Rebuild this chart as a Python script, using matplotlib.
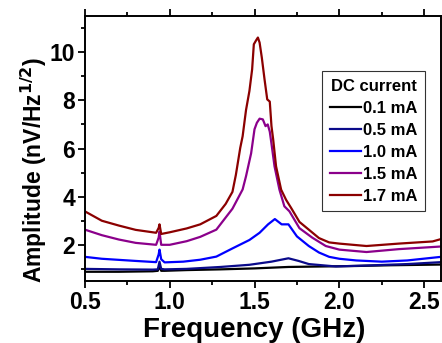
import numpy as np
import matplotlib.pyplot as plt
from matplotlib.ticker import MultipleLocator

plt.rcParams['font.family'] = ['Liberation Sans', 'DejaVu Sans']
plt.rcParams['font.weight'] = 'bold'

# 0.1 mA
f_01 = [0.5, 0.7, 0.9, 0.93, 0.94, 0.95, 0.97, 1.1, 1.3, 1.5, 1.7, 1.9, 2.1, 2.3, 2.6]
a_01 = [0.88, 0.88, 0.9, 0.92, 1.1, 0.92, 0.92, 0.95, 0.98, 1.02, 1.08, 1.1, 1.12, 1.15, 1.18]

# 0.5 mA
f_05 = [0.5, 0.7, 0.9, 0.93, 0.94, 0.95, 0.97, 1.1, 1.3, 1.47, 1.6, 1.7, 1.76, 1.82, 1.98,
        2.2, 2.4, 2.6]
a_05 = [1.0, 0.98, 0.97, 0.98, 1.3, 1.0, 0.98, 1.0, 1.08, 1.17, 1.3, 1.44, 1.33, 1.2, 1.1,
        1.15, 1.2, 1.28]

# 1.0 mA
f_10 = [0.5, 0.6, 0.8, 0.92, 0.935, 0.94, 0.95, 0.97, 1.08, 1.18, 1.275, 1.37, 1.47, 1.53,
        1.58, 1.62, 1.66, 1.7, 1.75, 1.82, 1.88, 1.94, 2.0, 2.1, 2.25, 2.4, 2.6]
a_10 = [1.5, 1.42, 1.33, 1.28, 1.6, 1.8, 1.4, 1.27, 1.3, 1.38, 1.51, 1.85, 2.2, 2.5,
        2.85, 3.07, 2.85, 2.85, 2.35, 1.95, 1.68, 1.5, 1.42, 1.35, 1.3, 1.35, 1.5]

# 1.5 mA
f_15 = [0.5, 0.6, 0.7, 0.8, 0.92, 0.935, 0.94, 0.95, 1.0, 1.1, 1.18, 1.275, 1.37, 1.43,
        1.45, 1.48, 1.5, 1.514, 1.53, 1.549, 1.565, 1.578, 1.59, 1.6, 1.618, 1.647, 1.676,
        1.706, 1.765, 1.84, 1.92, 2.0, 2.16, 2.35, 2.6]
a_15 = [2.63, 2.4, 2.22, 2.08, 2.0, 2.3, 2.55, 2.0, 2.0, 2.15, 2.33, 2.63, 3.5, 4.3,
        4.85, 5.8, 6.8, 7.07, 7.24, 7.21, 6.93, 7.0, 6.7, 6.2, 5.26, 4.29, 3.6,
        3.39, 2.69, 2.3, 1.95, 1.8, 1.7, 1.82, 1.93]

# 1.7 mA
f_17 = [0.5, 0.6, 0.7, 0.8, 0.92, 0.935, 0.94, 0.95, 1.0, 1.1, 1.18, 1.275, 1.33, 1.37,
        1.39, 1.416, 1.43, 1.45, 1.47, 1.486, 1.496, 1.51, 1.52, 1.53, 1.543, 1.559, 1.575,
        1.59, 1.6, 1.61, 1.627, 1.657, 1.686, 1.716, 1.765, 1.82, 1.88, 1.94, 2.0, 2.16,
        2.35, 2.55, 2.6]
a_17 = [3.39, 3.0, 2.8, 2.62, 2.5, 2.7, 2.85, 2.45, 2.52, 2.68, 2.85, 3.2, 3.7, 4.2,
        4.9, 6.03, 6.51, 7.6, 8.39, 9.29, 10.33, 10.5, 10.61, 10.4, 9.78, 8.88, 8.04,
        7.95, 6.93, 6.38, 5.26, 4.29, 3.87, 3.53, 2.95, 2.63, 2.28, 2.1, 2.05, 1.95,
        2.05, 2.14, 2.24]

labels = ['0.1 mA', '0.5 mA', '1.0 mA', '1.5 mA', '1.7 mA']
colors = ['#000000', '#0a0a8a', '#0000ff', '#8b008b', '#8b0000']
series = [(f_01, a_01), (f_05, a_05), (f_10, a_10), (f_15, a_15), (f_17, a_17)]

fig = plt.figure(figsize=(4.42, 3.43), dpi=100)
ax = fig.add_axes([0.192, 0.181, 0.806, 0.772])

for (f, a), lab, c in zip(series, labels, colors):
    ax.plot(f, a, color=c, lw=1.6, label=lab)

ax.set_xlim(0.5, 2.6)
ax.set_ylim(0.5, 11.5)
ax.xaxis.set_major_locator(MultipleLocator(0.5))
ax.xaxis.set_minor_locator(MultipleLocator(0.25))
ax.yaxis.set_minor_locator(MultipleLocator(1))
ax.set_yticks([2, 4, 6, 8, 10])
ax.tick_params(which='both', direction='out', top=True, right=False, width=1.3,
               labelsize=16.5, pad=2)
ax.tick_params(which='major', length=5)
ax.tick_params(which='minor', length=3)
for sp in ax.spines.values():
    sp.set_linewidth(1.4)

ax.set_xlabel('Frequency (GHz)', fontsize=20, fontweight='bold')
ax.xaxis.set_label_coords(0.475, -0.135)
ax.set_ylabel(r'Amplitude (nV/Hz$^{\mathbf{1/2}}$)', fontsize=16.5, fontweight='bold')
ax.yaxis.set_label_coords(-0.12, 0.42)
ax.yaxis.label.set_va('baseline')

leg = ax.legend(title='DC current', loc='upper right', bbox_to_anchor=(0.955, 0.792),
                fontsize=12, title_fontsize=12, frameon=True, fancybox=False,
                handlelength=1.9, handletextpad=0.1, borderpad=0.45, labelspacing=0.42,
                borderaxespad=0)
leg.get_frame().set_edgecolor('black')
leg.get_frame().set_linewidth(0.8)
leg.get_title().set_fontweight('bold')
for t in leg.get_texts():
    t.set_fontweight('bold')

fig.savefig('out.png', dpi=100)
